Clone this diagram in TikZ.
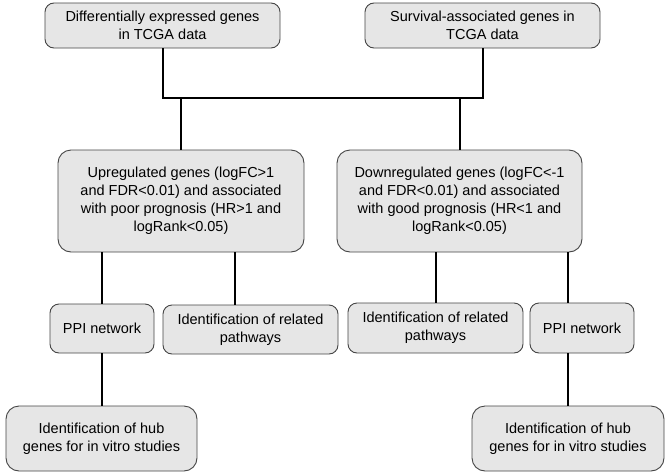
\documentclass[tikz,border=0pt]{standalone}
\usepackage{fontspec}
\setmainfont{Liberation Sans}
\definecolor{boxfill}{HTML}{E6E6E6}
\definecolor{boxline}{HTML}{454545}
\begin{document}
\begin{tikzpicture}[x=1pt,y=-1pt,
  box/.style={draw=boxline, line width=0.9pt, fill=boxfill, rounded corners=9pt,
    align=center, inner sep=0pt, font=\fontsize{14.5}{18}\selectfont},
  bigbox/.style={box, rounded corners=13pt},
  conn/.style={line width=2pt, black}]
\useasboundingbox (0,0) rectangle (669,474);
\node[box, minimum width=235pt, minimum height=45pt] (A) at (162.5,25.5) {Differentially expressed genes\\in TCGA data};
\node[box, minimum width=235pt, minimum height=45pt] (B) at (482.5,25.5) {Survival-associated genes in\\TCGA data};
\node[bigbox, minimum width=246pt, minimum height=102pt] (C) at (181,201) {Upregulated genes (logFC>1\\and FDR<0.01) and associated\\with poor prognosis (HR>1 and\\logRank<0.05)};
\node[bigbox, minimum width=245pt, minimum height=102pt] (D) at (459.5,201) {Downregulated genes (logFC<-1\\and FDR<0.01) and associated\\with good prognosis (HR<1 and\\logRank<0.05)};
\node[box, minimum width=104pt, minimum height=49pt] (PL) at (102,328.5) {PPI network};
\node[box, minimum width=175pt, minimum height=49pt] (IL) at (250.5,329.5) {Identification of related\\pathways};
\node[box, minimum width=175pt, minimum height=50pt] (IR) at (435.5,328) {Identification of related\\pathways};
\node[box, minimum width=104pt, minimum height=50pt] (PR) at (582,328) {PPI network};
\node[bigbox, minimum width=191pt, minimum height=65pt] (HL) at (101.5,438.5) {Identification of hub\\genes for in vitro studies};
\node[bigbox, minimum width=192pt, minimum height=65pt] (HR) at (568,438.5) {Identification of hub\\genes for in vitro studies};
\coordinate (j) at (0,98);
\coordinate (t2) at (235,0);
\draw[conn] (A.south) -- (A.south |- j) -- (B.south |- j) -- (B.south);
\draw[conn] (C.north |- j) -- (C.north);
\draw[conn] (D.north |- j) -- (D.north);
\draw[conn] (PL.north |- C.south) -- (PL.north);
\draw[conn] (t2 |- C.south) -- (t2 |- IL.north);
\draw[conn] (IR.north |- D.south) -- (IR.north);
\draw[conn] (HR.north |- D.south) -- (HR.north |- PR.north);
\draw[conn] (HL.north |- PL.south) -- (HL.north);
\draw[conn] (HR.north |- PR.south) -- (HR.north);
\end{tikzpicture}
\end{document}
